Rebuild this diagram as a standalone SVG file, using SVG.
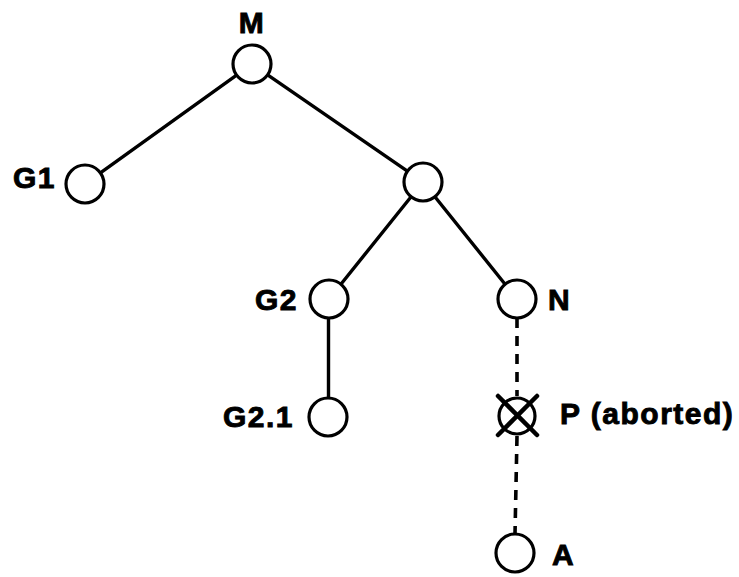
<svg xmlns="http://www.w3.org/2000/svg" width="739" height="577" viewBox="0 0 739 577">
<style>
.n{fill:#fff;stroke:#000;stroke-width:3.2}
.e{stroke:#000;stroke-width:3.4;fill:none;stroke-linecap:round}
.d{stroke-dasharray:10 8;stroke-linecap:butt;stroke-width:3.6}
.x{stroke:#000;stroke-width:4.5;stroke-linecap:round}
text{font-family:"Liberation Sans",Arial,sans-serif;font-weight:bold;font-size:30px;fill:#000;stroke:#000;stroke-width:0.9;letter-spacing:1.5px}
</style>
<rect width="739" height="577" fill="#fff"/>
<g id="connectors">
<line class="e" x1="236.6" y1="75.1" x2="100.4" y2="172.9"/>
<line class="e" x1="267.6" y1="74.8" x2="407.4" y2="171.2"/>
<line class="e" x1="411.1" y1="196.8" x2="340.9" y2="284.2"/>
<line class="e" x1="434.9" y1="196.8" x2="505.1" y2="284.2"/>
<line class="e" x1="328.5" y1="318" x2="328.5" y2="398"/>
<line class="e d" x1="517" y1="318" x2="517" y2="396"/>
<line class="e d" x1="517" y1="436" x2="515" y2="534"/>
</g>
<g id="M"><circle class="n" cx="252" cy="64" r="19"/><text x="252" y="33" text-anchor="middle">M</text></g>
<g id="G1"><circle class="n" cx="85" cy="184" r="19"/><text x="13" y="188">G1</text></g>
<g id="X"><circle class="n" cx="423" cy="182" r="19"/></g>
<g id="G2"><circle class="n" cx="329" cy="299" r="19"/><text x="255" y="310">G2</text></g>
<g id="N"><circle class="n" cx="517" cy="299" r="19"/><text x="548" y="310">N</text></g>
<g id="G2.1"><circle class="n" cx="328" cy="417" r="19"/><text x="223" y="427">G2.1</text></g>
<g id="P"><circle class="n" cx="517" cy="416" r="18"/><line class="x" x1="498" y1="396" x2="537" y2="435"/><line class="x" x1="537" y1="396" x2="498" y2="435"/><text x="560" y="424">P (aborted)</text></g>
<g id="A"><circle class="n" cx="515" cy="553" r="19"/><text x="552" y="565">A</text></g>
</svg>
